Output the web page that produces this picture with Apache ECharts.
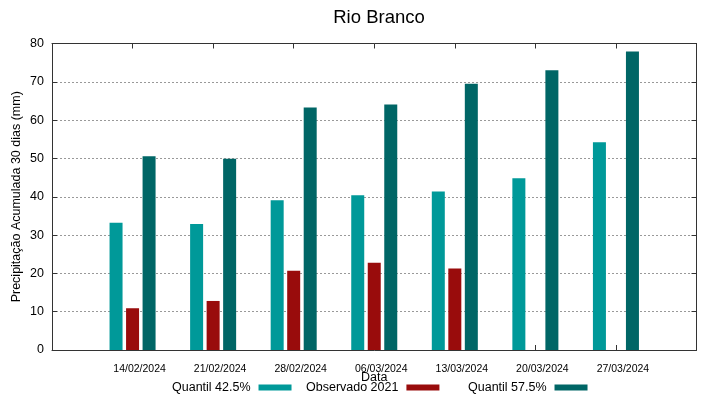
<!DOCTYPE html>
<html>
<head>
<meta charset="utf-8">
<script src="https://cdn.jsdelivr.net/npm/echarts@6/dist/echarts.min.js"></script>
<style>html,body{margin:0;padding:0;background:#fff}#c{width:719px;height:399px}</style>
</head>
<body>
<div id="c"></div>
<script>
const dates = ['14/02/2024', '21/02/2024', '28/02/2024', '06/03/2024', '13/03/2024', '20/03/2024', '27/03/2024'];
const quantil425 = [33.2, 32.9, 39.1, 40.4, 41.4, 44.8, 54.2];
const observado2021 = [10.9, 12.8, 20.7, 22.8, 21.3, null, null];
const quantil575 = [50.6, 49.9, 63.3, 64.1, 69.5, 73.0, 77.9];
const yTicks = [0, 10, 20, 30, 40, 50, 60, 70, 80];

const names = ['Quantil 42.5%', 'Observado 2021', 'Quantil 57.5%'];
const colors = ['#009999', '#990c0c', '#006666'];
const cats = [''].concat(dates, ['']);
const pad = arr => [null].concat(arr, [null]);

const font = 'Liberation Sans, Arial, sans-serif';
const chart = echarts.init(document.getElementById('c'), null, {renderer: 'canvas'});

function legend(i, left) {
  return {
    data: [names[i]], left: left, top: 381, padding: 0, align: 'right',
    icon: 'rect', itemWidth: 33, itemHeight: 6, selectedMode: false,
    textStyle: {fontFamily: font, fontSize: 12.5, color: '#000', padding: [0, 3, 0, 0]}
  };
}

const axisLineStyle = {color: '#333', width: 1};

chart.setOption({
  animation: false,
  backgroundColor: '#fff',
  title: {
    text: 'Rio Branco', left: 374, top: 3, textAlign: 'center',
    textStyle: {fontFamily: font, fontSize: 18.5, fontWeight: 'normal', color: '#000'}
  },
  legend: [legend(0, 172), legend(1, 306), legend(2, 468)],
  grid: {left: 52, right: 22.5, top: 43.5, bottom: 49, containLabel: false, outerBoundsMode: 'none'},
  xAxis: [{
    type: 'category', data: cats, boundaryGap: false, position: 'bottom',
    name: 'Data', nameLocation: 'middle', nameGap: 21, nameMoveOverlap: false,
    nameTextStyle: {fontFamily: font, fontSize: 12.5, color: '#000'},
    axisLine: {show: true, onZero: false, lineStyle: axisLineStyle},
    axisTick: {show: true, inside: true, length: 5, lineStyle: axisLineStyle},
    axisLabel: {fontFamily: font, fontSize: 10.5, color: '#000', margin: 14, padding: [0, 0, 0, 14], interval: 0},
    splitLine: {show: false}
  }, {
    type: 'category', data: cats, boundaryGap: false, position: 'top',
    axisLine: {show: true, onZero: false, lineStyle: axisLineStyle},
    axisTick: {show: true, inside: true, length: 5, lineStyle: axisLineStyle},
    axisLabel: {show: false}, splitLine: {show: false}
  }],
  yAxis: [{
    type: 'value', min: yTicks[0], max: yTicks[yTicks.length - 1], interval: 10, position: 'left',
    name: 'Precipitação Acumulada 30 dias (mm)', nameLocation: 'middle', nameGap: 29, nameRotate: 90, nameMoveOverlap: false,
    nameTextStyle: {fontFamily: font, fontSize: 12.5, color: '#000'},
    axisLine: {show: true, onZero: false, lineStyle: axisLineStyle},
    axisTick: {show: true, inside: true, length: 5, lineStyle: axisLineStyle},
    axisLabel: {fontFamily: font, fontSize: 12.5, color: '#000', margin: 8},
    splitLine: {show: true, lineStyle: {color: '#999', type: [2, 2], width: 1}}
  }, {
    type: 'value', min: yTicks[0], max: yTicks[yTicks.length - 1], interval: 10, position: 'right',
    axisLine: {show: true, onZero: false, lineStyle: axisLineStyle},
    axisTick: {show: true, inside: true, length: 5, lineStyle: axisLineStyle},
    axisLabel: {show: false}, splitLine: {show: false}
  }],
  series: [quantil425, observado2021, quantil575].map((arr, i) => ({
    type: 'bar', name: names[i], data: pad(arr), xAxisIndex: 0, yAxisIndex: 0,
    barWidth: 13, barGap: '27%', itemStyle: {color: colors[i]}
  }))
});
</script>
</body>
</html>
